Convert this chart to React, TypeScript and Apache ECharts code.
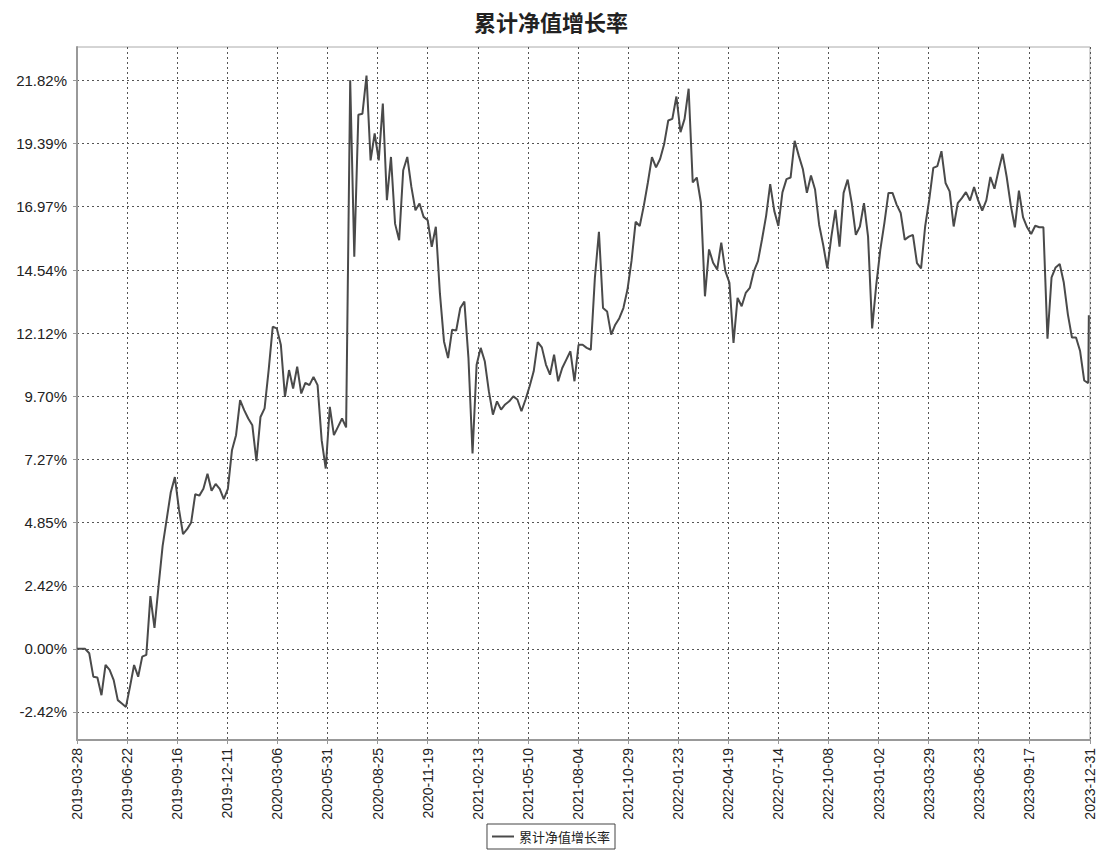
import React, { useEffect, useRef } from "react";
import * as echarts from "echarts";

const chartTitle = "累计净值增长率";
const seriesName = "累计净值增长率";
const axisStart = "2019-03-28";
const axisEnd = "2023-12-31";
const xTickLabels = ["2019-03-28","2019-06-22","2019-09-16","2019-12-11","2020-03-06","2020-05-31","2020-08-25","2020-11-19","2021-02-13","2021-05-10","2021-08-04","2021-10-29","2022-01-23","2022-04-19","2022-07-14","2022-10-08","2023-01-02","2023-03-29","2023-06-23","2023-09-17","2023-12-31"];
const yTickValues = [-2.42, 0, 2.42, 4.85, 7.27, 9.7, 12.12, 14.54, 16.97, 19.39, 21.82];
const yMin = -3.5;
const yMax = 23.1;

const dates2019 = ["2019-03-28","2019-04-04","2019-04-11","2019-04-18","2019-04-25","2019-05-02","2019-05-09","2019-05-16","2019-05-23","2019-05-30","2019-06-06","2019-06-13","2019-06-20","2019-06-27","2019-07-04","2019-07-11","2019-07-18","2019-07-25","2019-08-01","2019-08-08","2019-08-15","2019-08-22","2019-08-29","2019-09-05","2019-09-12","2019-09-19","2019-09-26","2019-10-03","2019-10-10","2019-10-17","2019-10-24","2019-10-31","2019-11-07","2019-11-14","2019-11-21","2019-11-28","2019-12-05","2019-12-12","2019-12-19","2019-12-26"];
const values2019 = [0.00,0.00,0.00,-0.17,-1.07,-1.10,-1.78,-0.62,-0.81,-1.20,-1.97,-2.10,-2.23,-1.45,-0.62,-1.07,-0.30,-0.23,2.02,0.80,2.41,3.95,4.98,6.01,6.59,5.36,4.40,4.59,4.85,5.94,5.88,6.14,6.72,6.07,6.33,6.14,5.75,6.14,7.62,8.20];

const dates2020 = ["2020-01-02","2020-01-09","2020-01-16","2020-01-23","2020-01-30","2020-02-06","2020-02-13","2020-02-20","2020-02-27","2020-03-05","2020-03-12","2020-03-19","2020-03-26","2020-04-02","2020-04-09","2020-04-16","2020-04-23","2020-04-30","2020-05-07","2020-05-14","2020-05-21","2020-05-28","2020-06-04","2020-06-11","2020-06-18","2020-06-25","2020-07-02","2020-07-09","2020-07-16","2020-07-23","2020-07-30","2020-08-06","2020-08-13","2020-08-20","2020-08-27","2020-09-03","2020-09-10","2020-09-17","2020-09-24","2020-10-01","2020-10-08","2020-10-15","2020-10-22","2020-10-29","2020-11-05","2020-11-12","2020-11-19","2020-11-26","2020-12-03","2020-12-10","2020-12-17","2020-12-24","2020-12-31"];
const values2020 = [9.55,9.16,8.84,8.58,7.20,8.90,9.23,10.70,12.36,12.30,11.66,9.67,10.70,9.99,10.83,9.80,10.21,10.12,10.44,10.12,8.01,6.92,9.29,8.20,8.52,8.84,8.50,21.82,15.05,20.50,20.54,22.00,18.75,19.78,18.75,20.93,17.22,18.88,16.32,15.68,18.37,18.88,17.73,16.83,17.09,16.58,16.45,15.43,16.20,13.64,11.80,11.16,12.25];

const dates2021 = ["2021-01-07","2021-01-14","2021-01-21","2021-01-28","2021-02-04","2021-02-11","2021-02-18","2021-02-25","2021-03-04","2021-03-11","2021-03-18","2021-03-25","2021-04-01","2021-04-08","2021-04-15","2021-04-22","2021-04-29","2021-05-06","2021-05-13","2021-05-20","2021-05-27","2021-06-03","2021-06-10","2021-06-17","2021-06-24","2021-07-01","2021-07-08","2021-07-15","2021-07-22","2021-07-29","2021-08-05","2021-08-12","2021-08-19","2021-08-26","2021-09-02","2021-09-09","2021-09-16","2021-09-23","2021-09-30","2021-10-07","2021-10-14","2021-10-21","2021-10-28","2021-11-04","2021-11-11","2021-11-18","2021-11-25","2021-12-02","2021-12-09","2021-12-16","2021-12-23","2021-12-30"];
const values2021 = [12.22,13.08,13.33,11.16,7.50,10.90,11.55,11.04,9.89,8.99,9.50,9.18,9.38,9.50,9.69,9.57,9.12,9.57,10.08,10.65,11.77,11.57,10.91,10.52,11.29,10.27,10.78,11.10,11.42,10.27,11.67,11.67,11.55,11.48,14.23,16.01,13.08,12.95,12.06,12.44,12.69,13.08,13.79,14.90,16.39,16.23,17.00,17.90,18.87,18.48,18.80,19.38];

const dates2022 = ["2022-01-06","2022-01-13","2022-01-20","2022-01-27","2022-02-03","2022-02-10","2022-02-17","2022-02-24","2022-03-03","2022-03-10","2022-03-17","2022-03-24","2022-03-31","2022-04-07","2022-04-14","2022-04-21","2022-04-28","2022-05-05","2022-05-12","2022-05-19","2022-05-26","2022-06-02","2022-06-09","2022-06-16","2022-06-23","2022-06-30","2022-07-07","2022-07-14","2022-07-21","2022-07-28","2022-08-04","2022-08-11","2022-08-18","2022-08-25","2022-09-01","2022-09-08","2022-09-15","2022-09-22","2022-09-29","2022-10-06","2022-10-13","2022-10-20","2022-10-27","2022-11-03","2022-11-10","2022-11-17","2022-11-24","2022-12-01","2022-12-08","2022-12-15","2022-12-22","2022-12-29"];
const values2022 = [20.28,20.34,21.20,19.83,20.34,21.50,17.90,18.09,17.13,13.53,15.33,14.82,14.56,15.59,14.50,14.05,11.74,13.47,13.15,13.66,13.85,14.50,14.88,15.72,16.62,17.84,16.81,16.23,17.52,18.03,18.09,19.50,18.93,18.42,17.50,18.17,17.63,16.28,15.50,14.60,15.82,16.85,15.44,17.50,18.01,17.11,15.89,16.21,17.11,15.82,12.30,13.95];

const dates2023 = ["2023-01-05","2023-01-12","2023-01-19","2023-01-26","2023-02-02","2023-02-09","2023-02-16","2023-02-23","2023-03-02","2023-03-09","2023-03-16","2023-03-23","2023-03-30","2023-04-06","2023-04-13","2023-04-20","2023-04-27","2023-05-04","2023-05-11","2023-05-18","2023-05-25","2023-06-01","2023-06-08","2023-06-15","2023-06-22","2023-06-29","2023-07-06","2023-07-13","2023-07-20","2023-07-27","2023-08-03","2023-08-10","2023-08-17","2023-08-24","2023-08-31","2023-09-07","2023-09-14","2023-09-21","2023-09-28","2023-10-05","2023-10-12","2023-10-19","2023-10-26","2023-11-02","2023-11-09","2023-11-16","2023-11-23","2023-11-30","2023-12-07","2023-12-14","2023-12-21","2023-12-28","2023-12-29"];
const values2023 = [15.31,16.34,17.50,17.50,17.05,16.73,15.70,15.82,15.89,14.80,14.60,16.21,17.24,18.46,18.53,19.10,17.88,17.56,16.21,17.11,17.30,17.53,17.21,17.72,17.21,16.82,17.21,18.11,17.66,18.36,19.00,18.11,17.02,16.18,17.59,16.57,16.18,15.92,16.24,16.18,16.18,11.90,14.26,14.64,14.77,14.06,12.84,11.95,11.95,11.43,10.30,10.20,12.80];

const DAY = 86400000;
const t0 = Date.parse(axisStart + "T00:00:00Z");
const toDays = (s: string) => Math.round((Date.parse(s + "T00:00:00Z") - t0) / DAY);
const dayLabel = (d: number) => new Date(t0 + Math.round(d) * DAY).toISOString().slice(0, 10);

const allDates = [...dates2019, ...dates2020, ...dates2021, ...dates2022, ...dates2023];
const allValues = [...values2019, ...values2020, ...values2021, ...values2022, ...values2023];

export default function App() {
  const ref = useRef<HTMLDivElement>(null);
  useEffect(() => {
    if (!ref.current) return;
    const chart = echarts.init(ref.current, null, { renderer: "svg" });
    const data = allDates.map((d, i) => [toDays(d), allValues[i]]);
    const xTickDays = xTickLabels.map(toDays);
    const gridLine = { show: true, lineStyle: { color: "#555", type: [2, 3], width: 1 } };
    chart.setOption({
      animation: false,
      backgroundColor: "#fff",
      title: {
        text: chartTitle,
        left: "center",
        top: 5,
        textStyle: { fontSize: 22, fontWeight: "bold", color: "#222", fontFamily: "Noto Sans CJK SC" },
      },
      legend: {
        bottom: 3,
        left: "center",
        data: [{ name: seriesName, icon: "rect" }],
        itemWidth: 22,
        itemHeight: 2,
        borderColor: "#444",
        borderWidth: 1,
        borderRadius: 0,
        padding: [6, 5],
        textStyle: { fontSize: 13, color: "#222", fontFamily: "Noto Sans CJK SC" },
      },
      grid: { left: 77, right: 12, top: 47, bottom: 112, show: true, borderColor: "#aaa", borderWidth: 1 },
      xAxis: {
        type: "value",
        min: 0,
        max: toDays(axisEnd),
        axisLine: { show: true, onZero: false, lineStyle: { color: "#999", width: 2 } },
        axisTick: { show: true, customValues: xTickDays, length: 4, lineStyle: { color: "#999" } },
        axisLabel: {
          customValues: xTickDays,
          rotate: 90,
          fontSize: 14,
          color: "#222",
          fontFamily: "Liberation Sans",
          margin: 8,
          formatter: (v: number) => dayLabel(v),
        },
        splitLine: gridLine,
      },
      yAxis: {
        type: "value",
        min: yMin,
        max: yMax,
        axisLine: { show: true, onZero: false, lineStyle: { color: "#999", width: 2 } },
        axisTick: { show: true, customValues: yTickValues, length: 4, lineStyle: { color: "#999" } },
        axisLabel: {
          customValues: yTickValues,
          formatter: (v: number) => v.toFixed(2) + "%",
          fontSize: 15,
          color: "#222",
          fontFamily: "Liberation Sans",
          margin: 10,
        },
        splitLine: gridLine,
      },
      series: [
        {
          type: "line",
          name: seriesName,
          data,
          symbol: "none",
          showSymbol: false,
          lineStyle: { color: "#4a4a4a", width: 2 },
          itemStyle: { color: "#4a4a4a" },
        },
      ],
    });
    return () => chart.dispose();
  }, []);
  return <div ref={ref} style={{ position: "fixed", left: 0, top: 0, width: 1102, height: 852 }} />;
}
